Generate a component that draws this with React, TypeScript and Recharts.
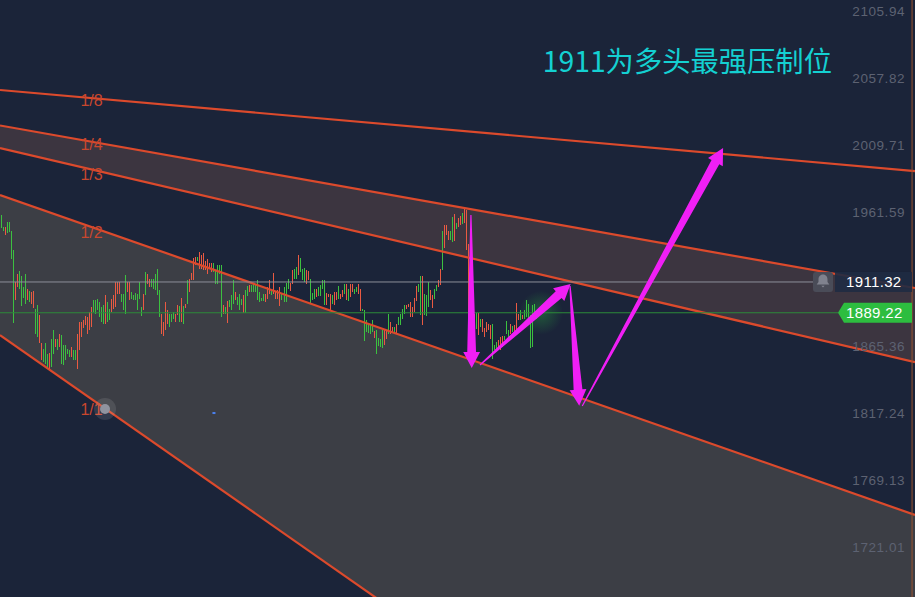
import React from 'react';
import { ComposedChart, Area, Bar, Cell, Line, XAxis, YAxis, ReferenceLine, ReferenceDot } from 'recharts';

const W = 915;
const H = 597;
const BG = '#1b2439';
const RED = '#dc4a2c';
const UP = '#ea5a42';
const DOWN = '#3cc040';
const MAGENTA = '#f01ff5';

const highs = [1959.4,1951.0,1950.5,1954.6,1954.6,1947.9,1934.2,1911.4,1917.4,1919.1,1915.5,1907.8,1916.9,1906.6,1904.9,1904.2,1904.9,1892.2,1894.6,1887.4,1867.5,1863.4,1867.7,1859.8,1860.5,1870.1,1876.6,1870.6,1870.6,1874.2,1873.0,1865.8,1865.8,1863.4,1862.7,1864.6,1862.7,1862.7,1874.2,1882.6,1882.6,1883.8,1886.7,1886.2,1889.8,1893.4,1898.2,1898.2,1899.4,1897.0,1893.4,1894.6,1901.8,1897.0,1892.2,1899.4,1901.8,1911.4,1911.4,1911.4,1903.0,1903.0,1916.2,1911.4,1911.4,1904.2,1901.8,1903.5,1903.0,1911.4,1893.4,1902.5,1918.6,1916.9,1913.8,1913.8,1913.8,1917.4,1920.3,1905.9,1888.1,1882.6,1897.0,1891.0,1888.6,1888.6,1889.8,1888.6,1894.6,1893.9,1899.9,1893.9,1895.8,1912.6,1913.8,1917.9,1928.2,1929.4,1929.4,1933.0,1930.6,1931.8,1926.5,1927.7,1924.6,1925.1,1925.1,1919.8,1923.4,1923.4,1923.4,1894.6,1893.4,1897.5,1898.2,1901.8,1912.6,1904.2,1900.6,1903.0,1899.4,1901.8,1905.9,1908.3,1909.0,1909.0,1910.2,1909.0,1913.1,1904.2,1900.1,1903.0,1902.5,1907.8,1913.1,1906.6,1917.9,1904.2,1905.4,1907.8,1903.5,1907.8,1910.7,1913.8,1910.7,1919.8,1921.0,1922.2,1930.6,1928.2,1921.0,1921.7,1919.8,1919.1,1913.8,1903.7,1906.6,1906.6,1907.8,1909.0,1913.1,1913.1,1903.5,1903.0,1903.0,1901.8,1904.2,1904.2,1908.3,1903.0,1905.9,1909.7,1909.7,1906.6,1910.2,1910.2,1906.6,1907.8,1910.2,1906.6,1892.2,1891.0,1883.8,1881.4,1880.2,1884.3,1876.1,1876.6,1871.3,1870.6,1876.6,1876.6,1876.6,1888.6,1882.6,1879.0,1879.0,1881.4,1886.2,1888.1,1892.2,1894.6,1894.6,1895.3,1897.0,1893.4,1900.1,1908.3,1910.2,1915.5,1915.5,1902.5,1901.8,1911.4,1905.4,1902.3,1906.6,1909.0,1913.1,1920.5,1947.9,1952.2,1952.2,1948.1,1948.1,1958.2,1960.1,1953.9,1957.0,1958.7,1960.6,1964.2,1963.0,1938.5,1898.2,1887.4,1888.6,1889.3,1889.3,1885.0,1884.5,1878.5,1882.6,1881.4,1880.2,1881.4,1865.8,1868.2,1869.4,1871.8,1872.5,1872.5,1883.3,1876.6,1881.4,1879.5,1880.2,1896.3,1888.6,1891.0,1887.4,1891.0,1898.2,1895.8,1887.4,1894.6,1895.3,1887.4];
const lows = [1949.8,1948.1,1945.0,1946.2,1947.4,1927.8,1881.9,1898.2,1907.8,1906.6,1894.1,1899.9,1895.8,1898.2,1897.0,1895.8,1892.9,1873.7,1871.8,1867.5,1855.0,1853.8,1852.6,1849.0,1847.8,1850.2,1859.8,1864.6,1862.2,1864.6,1852.6,1851.4,1855.0,1859.8,1857.4,1857.4,1855.0,1855.0,1849.0,1862.2,1871.8,1878.5,1880.2,1874.2,1876.6,1879.0,1889.8,1888.6,1891.0,1886.2,1882.6,1881.4,1881.4,1882.6,1883.8,1889.8,1892.2,1893.4,1903.0,1903.0,1897.0,1891.0,1888.6,1904.2,1898.2,1899.4,1898.2,1898.2,1891.0,1899.4,1886.7,1891.5,1901.8,1910.2,1907.8,1907.8,1906.6,1905.4,1901.8,1886.2,1873.7,1872.5,1876.6,1881.4,1879.0,1882.6,1885.0,1882.6,1887.4,1882.6,1882.6,1880.9,1892.9,1895.8,1904.2,1912.6,1912.6,1923.4,1926.5,1921.0,1921.0,1919.8,1919.8,1917.4,1920.3,1918.6,1918.6,1910.2,1910.2,1917.4,1886.2,1888.6,1888.6,1881.9,1893.4,1891.5,1895.8,1898.2,1894.6,1891.0,1894.6,1889.1,1889.1,1901.1,1904.2,1904.2,1904.2,1904.2,1898.2,1897.0,1897.7,1897.7,1897.0,1899.4,1903.0,1901.8,1903.0,1899.4,1899.4,1893.9,1898.2,1897.0,1897.0,1906.6,1904.9,1910.2,1913.8,1913.8,1916.2,1918.6,1912.6,1911.4,1910.2,1912.6,1895.8,1898.2,1899.4,1900.6,1901.1,1901.1,1906.6,1894.6,1894.6,1900.6,1891.0,1895.8,1894.6,1898.2,1899.4,1899.4,1900.6,1903.0,1898.2,1897.5,1900.6,1904.2,1902.5,1904.2,1903.0,1890.5,1890.5,1869.0,1875.4,1874.9,1874.2,1875.4,1871.1,1859.8,1865.1,1864.6,1863.9,1865.8,1870.6,1874.2,1874.2,1875.4,1874.2,1874.2,1880.2,1880.2,1885.0,1888.6,1892.2,1893.4,1886.2,1886.2,1889.8,1897.7,1904.2,1887.4,1880.2,1887.4,1886.7,1893.4,1898.2,1892.7,1899.4,1904.7,1907.8,1909.0,1919.8,1935.4,1945.0,1941.4,1941.4,1940.2,1940.9,1949.1,1950.5,1952.2,1952.7,1953.4,1934.2,1874.2,1887.4,1876.6,1877.8,1877.8,1873.5,1879.0,1875.4,1871.8,1875.4,1877.1,1870.6,1856.2,1862.2,1862.2,1864.6,1862.7,1864.6,1869.4,1874.2,1871.8,1874.2,1875.4,1875.4,1876.1,1883.8,1883.8,1885.0,1885.0,1886.2,1885.0,1863.9,1864.6,1885.0,1884.5];
const rising = '001000011000010110011000100101000001001111111100000010011111000110000001011000001111000110101011110111111100000101000100010010000000111011110000110010001100010000111011011010110011000000100001101101000011111100100011001101110010110111111010111110001110001011101000';

const fanBars = [-0.65, 455.47];
const fan8 = [2049.2, 1991.0];
const fan4 = [2023.7, 1907.0];
const fan3 = [2007.5, 1853.8];
const fan2 = [1973.8, 1744.0];
const fan1 = [1873.2, 1414.1];

const fanLabels = ['1/8', '1/4', '1/3', '1/2', '1/1'];
const fanLabelPrices = [2042.0, 2010.4, 1988.9, 1947.2, 1820.1];

const arrowFromBar = [234.1, 238.6, 283.5, 289.6];
const arrowFromPrice = [1959.4, 1851.7, 1908.4, 1822.3];
const arrowToBar = [234.5, 283.8, 288.1, 359.8];
const arrowToPrice = [1849.5, 1909.9, 1822.5, 2007.5];

const yTicks = [2105.94, 2057.82, 2009.71, 1961.59, 1865.36, 1817.24, 1769.13, 1721.01];
const alertPrice = 1911.32;
const lastPrice = 1889.22;
const title = '1911为多头最强压制位';

const candles = highs.map((high, i) => ({ bar: i, high, low: lows[i], up: rising[i] === '1' }));
const fanRows = fanBars.map((bar, i) => ({
  bar,
  f8: fan8[i],
  f4: fan4[i],
  f3: fan3[i],
  f2: fan2[i],
  f1: fan1[i],
  upperBand: [fan3[i], fan4[i]],
  lowerBand: [fan1[i], fan2[i]],
}));

const ArrowShape = (p: any) => {
  const dx = p.x2 - p.x1;
  const dy = p.y2 - p.y1;
  const len = Math.hypot(dx, dy);
  const ux = dx / len;
  const uy = dy / len;
  const nx = -uy;
  const ny = ux;
  const bx = p.x2 - ux * 16;
  const by = p.y2 - uy * 16;
  const pts = [
    [p.x1 + nx * 0.6, p.y1 + ny * 0.6],
    [bx + nx * 4.4, by + ny * 4.4],
    [bx + nx * 8.4, by + ny * 8.4],
    [p.x2, p.y2],
    [bx - nx * 8.4, by - ny * 8.4],
    [bx - nx * 4.4, by - ny * 4.4],
    [p.x1 - nx * 0.6, p.y1 - ny * 0.6],
  ];
  return <polygon points={pts.map((q) => q.join(',')).join(' ')} fill={MAGENTA} />;
};

const AlertLine = (p: any) => {
  const y = p.y1;
  return (
    <g>
      <line x1={0} x2={813} y1={y} y2={y} stroke="#8d8e99" strokeWidth={1} />
      <rect x={835} y={y - 10} width={77} height={20} fill="#1f2b42" fillOpacity={0.9} />
      <text x={846} y={y} dy="0.36em" fill="#ffffff" fontSize={15} fontFamily="Liberation Sans" letterSpacing={0.35}>{alertPrice.toFixed(2)}</text>
      <rect x={813} y={y - 10} width={20} height={20} rx={3} fill="#4a4c58" />
      <path
        d={`M823 ${y - 7.5} c-3 0 -4.5 2.4 -4.5 5 v2.5 l-1.8 2.6 h12.6 l-1.8 -2.6 v-2.5 c0 -2.6 -1.5 -5 -4.5 -5 z M821.3 ${y + 3.8} h3.4 l-1.7 1.8 z`}
        fill="#80828e"
      />
    </g>
  );
};

const LastLine = (p: any) => {
  const y = p.y1;
  return (
    <g>
      <line x1={0} x2={838} y1={y} y2={y} stroke="#2c8a3a" strokeWidth={1} />
      <polygon points={`838,${y} 844,${y - 10} 912,${y - 10} 912,${y + 10} 844,${y + 10}`} fill="#2dbd3f" />
      <text x={846} y={y} dy="0.36em" fill="#ffffff" fontSize={15} fontFamily="Liberation Sans" letterSpacing={0.35}>{lastPrice.toFixed(2)}</text>
    </g>
  );
};

const FanLabel = (text: string) => (p: any) => (
  <text x={p.cx} y={p.cy} dy="0.36em" textAnchor="middle" fill="#c9472e" fontSize={16} fontFamily="Liberation Sans">{text}</text>
);

const Glow = (p: any) => (
  <g>
    <radialGradient id="lastGlow">
      <stop offset="0%" stopColor="#2dbd3f" stopOpacity={0.35} />
      <stop offset="100%" stopColor="#2dbd3f" stopOpacity={0} />
    </radialGradient>
    <circle cx={p.x1} cy={p.y1} r={22} fill="url(#lastGlow)" />
  </g>
);

const Handle = (p: any) => (
  <g>
    <circle cx={p.cx} cy={p.cy} r={11} fill="#ffffff" fillOpacity={0.1} />
    <circle cx={p.cx} cy={p.cy} r={5} fill="#90939f" />
  </g>
);

const BlueMark = (p: any) => <rect x={p.cx - 1.5} y={p.cy - 1} width={3} height={2} fill="#4a80ee" />;

const Title = (p: any) => (
  <text x={p.cx} y={p.cy} dy="0.36em" textAnchor="middle" fill="#14d0d2" fontSize={28.3} fontFamily="'Noto Sans CJK SC'">{title}</text>
);

export default function App() {
  return (
    <div style={{ position: 'absolute', left: 0, top: 0, width: W, height: H, background: BG, overflow: 'hidden' }}>
      <ComposedChart width={W} height={H} data={candles} margin={{ top: 0, right: 0, bottom: 0, left: 0 }}>
        <XAxis dataKey="bar" type="number" domain={[-0.65, 455.47]} hide allowDataOverflow />
        <YAxis
          orientation="right"
          mirror
          width={70}
          domain={[1685.07, 2113.84]}
          allowDataOverflow
          ticks={yTicks}
          interval={0}
          axisLine={false}
          tickLine={false}
          tickSize={0}
          tickMargin={10}
          tickFormatter={(v: number) => v.toFixed(2)}
          tick={{ fill: '#5d6272', fontSize: 13.5, fontFamily: 'Liberation Sans', letterSpacing: 0.55 }}
        />
        <Area data={fanRows} dataKey="lowerBand" type="linear" stroke="none" fill="#3c3e45" fillOpacity={1} isAnimationActive={false} dot={false} activeDot={false} />
        <Area data={fanRows} dataKey="upperBand" type="linear" stroke="none" fill="#3c3540" fillOpacity={1} isAnimationActive={false} dot={false} activeDot={false} />
        <Bar dataKey={(d: any) => [d.low, d.high]} barSize={1} shapeRendering="crispEdges" isAnimationActive={false}>
          {candles.map((c) => (
            <Cell key={c.bar} fill={c.up ? UP : DOWN} />
          ))}
        </Bar>
        <Line data={fanRows} dataKey="f8" type="linear" stroke={RED} strokeWidth={2.2} dot={false} activeDot={false} isAnimationActive={false} />
        <Line data={fanRows} dataKey="f4" type="linear" stroke={RED} strokeWidth={2.2} dot={false} activeDot={false} isAnimationActive={false} />
        <Line data={fanRows} dataKey="f3" type="linear" stroke={RED} strokeWidth={2.2} dot={false} activeDot={false} isAnimationActive={false} />
        <Line data={fanRows} dataKey="f2" type="linear" stroke={RED} strokeWidth={2.2} dot={false} activeDot={false} isAnimationActive={false} />
        <Line data={fanRows} dataKey="f1" type="linear" stroke={RED} strokeWidth={2.2} dot={false} activeDot={false} isAnimationActive={false} />
        <ReferenceLine x={454} stroke="#9a5230" strokeWidth={1} />
        <ReferenceLine
          segment={[
            { x: 269, y: lastPrice },
            { x: 269, y: lastPrice },
          ]}
          shape={Glow}
        />
        <ReferenceLine y={alertPrice} shape={AlertLine} />
        <ReferenceLine y={lastPrice} shape={LastLine} />
        {fanLabels.map((t, i) => (
          <ReferenceDot key={t} x={45} y={fanLabelPrices[i]} shape={FanLabel(t)} />
        ))}
        <ReferenceDot x={51.7} y={1820.1} shape={Handle} />
        <ReferenceDot x={106} y={1817.2} shape={BlueMark} />
        <ReferenceDot x={342} y={2069.6} shape={Title} />
        {arrowFromBar.map((b, i) => (
          <ReferenceLine
            key={i}
            segment={[
              { x: b, y: arrowFromPrice[i] },
              { x: arrowToBar[i], y: arrowToPrice[i] },
            ]}
            shape={ArrowShape}
          />
        ))}
      </ComposedChart>
    </div>
  );
}
